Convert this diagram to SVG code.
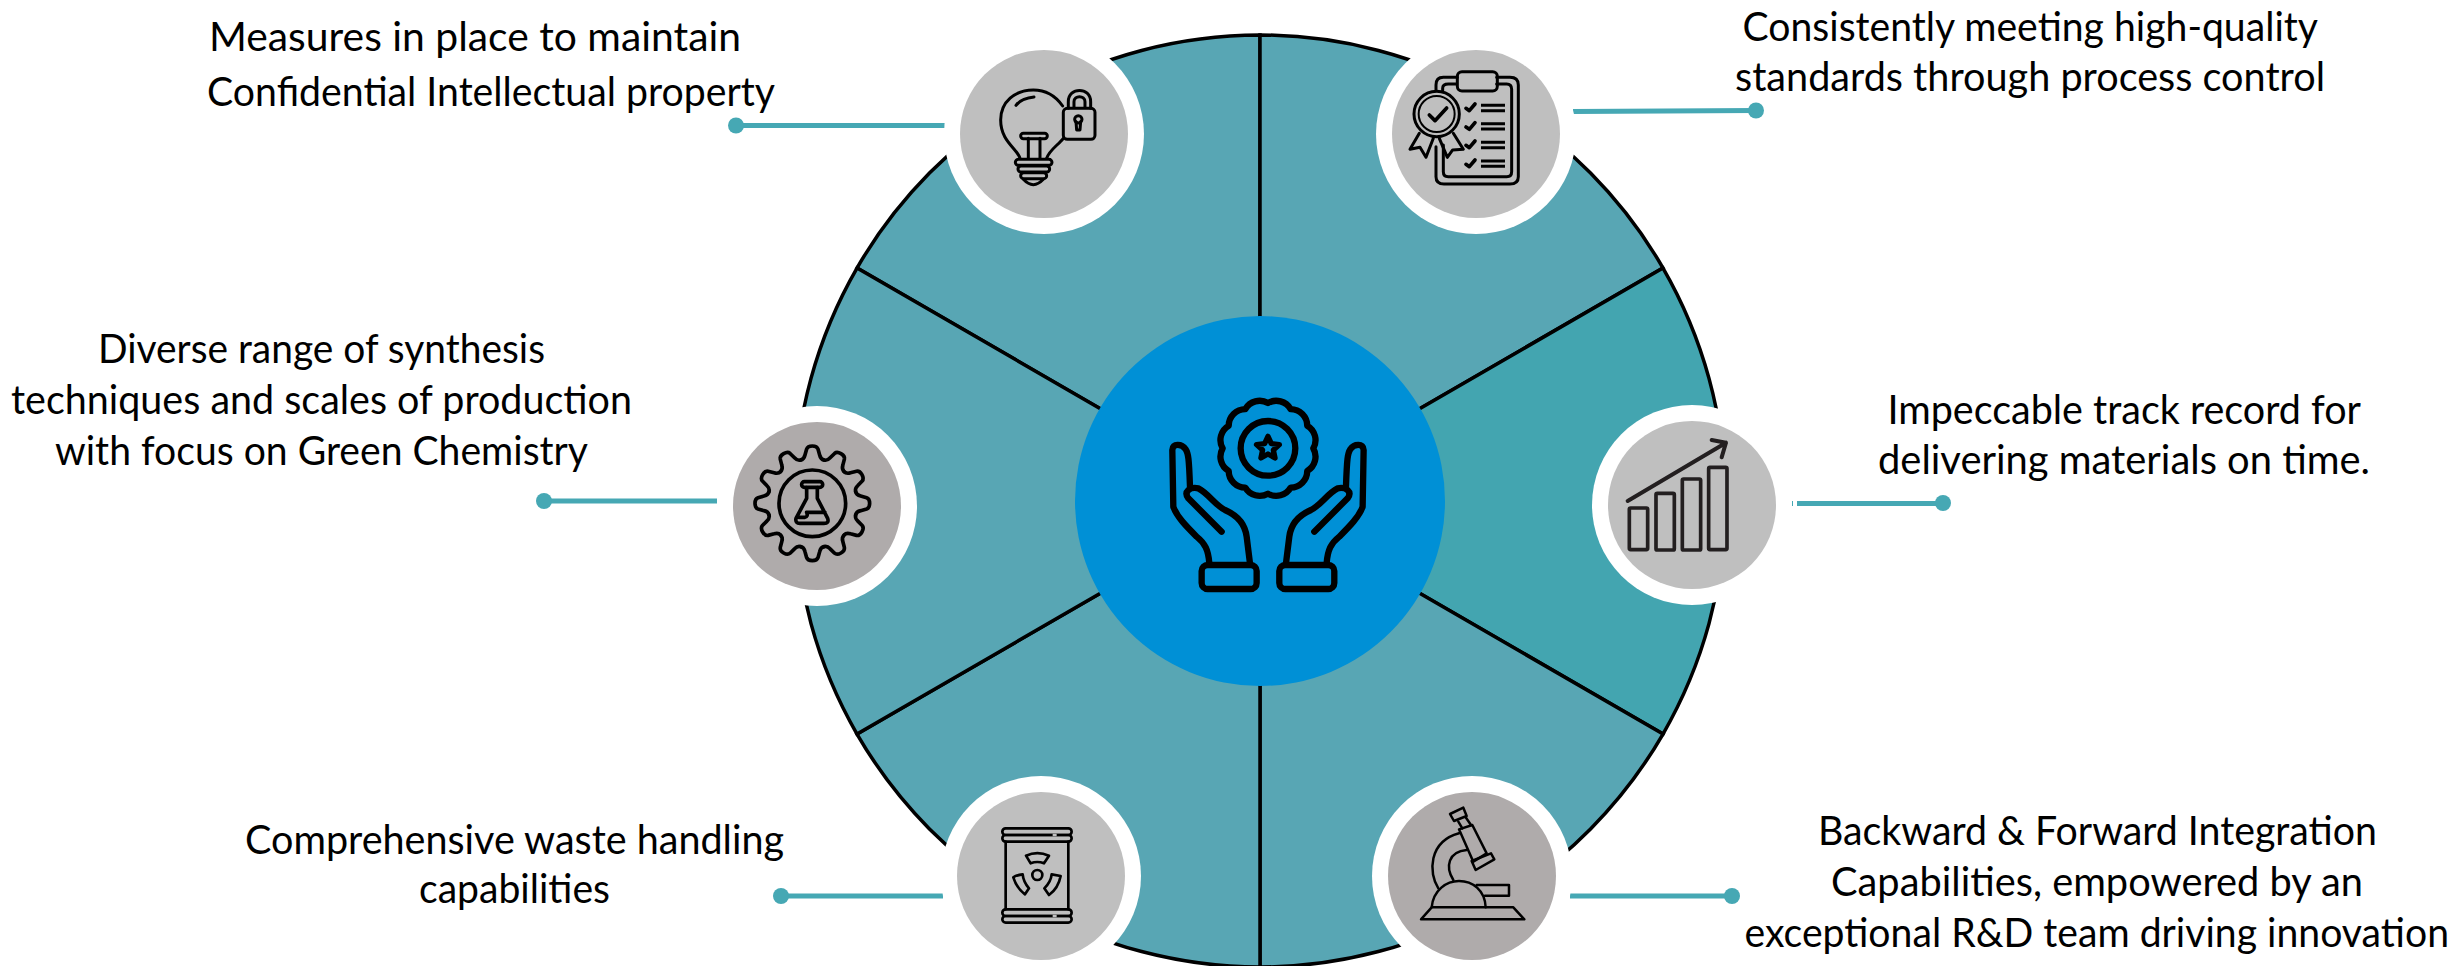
<svg xmlns="http://www.w3.org/2000/svg" xmlns:xlink="http://www.w3.org/1999/xlink" width="2458" height="966" viewBox="0 0 2458 966">
<style>
.sec{fill:#58a6b4;stroke:#000;stroke-width:3.5}
.ring{fill:#fff}
.g1{fill:#bfbfbf}
.g2{fill:#afabab}
.ic{fill:none;stroke:#000;stroke-linecap:round;stroke-linejoin:round}
.cl{fill:none;stroke:#46a8b4;stroke-width:5}
.dot{fill:#46a8b4}
text{font-family:Lato,"Open Sans",sans-serif;font-size:40px;fill:#000}
</style>
<defs>
<path id="tooth" d="M-35 -130Q-25 -132 -22 -145L-17 -163Q-14 -172 0 -172Q14 -172 17 -163L22 -145Q25 -132 35 -130"/>
<g id="hand">
<path d="M508 760C505 720 495 700 470 680C440 650 410 620 400 590L397 420C397 400 425 400 437 418C445 430 447 445 450 530"/>
<path d="M545 665L445 565C430 545 450 530 475 535C505 550 525 585 555 600C590 615 615 640 620 680L630 760"/>
<rect x="485" y="765" width="165" height="72" rx="18"/>
</g>
</defs>
<rect width="2458" height="966" fill="#fff"/>
<g id="pie">
<path class="sec" d="M1260 501L857 268A466 466 0 0 1 1260 35Z"/>
<path class="sec" d="M1260 501L1260 35A466 466 0 0 1 1663 268Z"/>
<path class="sec" style="fill:#43a5b0" d="M1260 501L1663 268A466 466 0 0 1 1663 734Z"/>
<path class="sec" d="M1260 501L1663 734A466 466 0 0 1 1260 967Z"/>
<path class="sec" d="M1260 501L1260 967A466 466 0 0 1 857 734Z"/>
<path class="sec" d="M1260 501L857 734A466 466 0 0 1 857 268Z"/>
</g>
<g id="connectors">
<path class="cl" d="M736 125.500H945"/><circle class="dot" cx="736" cy="125.500" r="8"/>
<path class="cl" d="M1573 111.500L1756 110.500"/><circle class="dot" cx="1756" cy="110.500" r="8"/>
<path class="cl" d="M544 501H717"/><circle class="dot" cx="544" cy="501" r="8"/>
<path class="cl" d="M1797 503.500H1943"/><rect class="dot" x="1792" y="501" width="1" height="5"/><circle class="dot" cx="1943" cy="503" r="8"/>
<path class="cl" d="M781 896H943"/><circle class="dot" cx="781" cy="896" r="8"/>
<path class="cl" d="M1570 896H1732"/><circle class="dot" cx="1732" cy="896" r="8"/>
</g>
<g id="node-quality-top-left">
<circle class="ring" cx="1044" cy="134" r="100"/><circle class="g1" cx="1044" cy="134" r="84"/>
<g class="ic" stroke-width="9" transform="translate(930 30) scale(.3333)">
<path d="M270 385C262 355 212 335 212 270C212 215 255 180 310 180C345 180 375 195 398 228M400 325C385 345 358 360 350 385M258 226C270 210 290 203 312 201M295 385V325M330 385V325"/>
<rect x="272" y="310" width="80" height="16" rx="8"/>
<rect x="256" y="388" width="110" height="18" rx="9"/><rect x="264" y="408" width="95" height="18" rx="9"/><rect x="272" y="428" width="78" height="18" rx="9"/>
<path d="M280 448Q310 480 340 448"/>
<rect x="400" y="235" width="95" height="93" rx="12"/>
<path d="M415 235V215C415 170 482 170 482 215V235M432 232V215C432 195 465 195 465 215V232"/>
<circle cx="445" cy="268" r="11"/><path d="M438 275L440 300H450L452 275"/>
</g>
</g>
<g id="node-quality-top-right">
<circle class="ring" cx="1476" cy="134" r="100"/><circle class="g1" cx="1476" cy="134" r="84"/>
<g class="ic" stroke-width="9" transform="translate(1370 20) scale(.3333)">
<path d="M262 172H220Q198 172 198 195V212M380 172H420Q445 172 445 195V470Q445 492 420 492H222Q198 492 198 470V380M260 192H235Q218 192 218 205V212M380 192H410Q425 192 425 208V455Q425 470 410 470H235Q220 470 220 455V375"/>
<rect x="262" y="155" width="120" height="58" rx="14"/>
<circle cx="200" cy="282" r="68"/><circle cx="200" cy="282" r="54" stroke-width="6"/>
<path stroke-width="11" d="M178 285L195 302L230 264"/>
<path d="M148 340L120 388L150 382L168 412L190 355M250 340L280 388L248 390L232 412L208 355"/>
<path stroke-width="11" d="M288 265L298 272L315 252M288 321L298 328L315 308M288 376L298 383L315 363M288 433L298 440L315 420"/>
<path stroke-linecap="butt" d="M333 256H405M333 272H405M333 311H405M333 327H405M333 367H405M333 383H405M333 423H405M333 439H405"/>
</g>
</g>
<g id="node-synthesis-left">
<circle class="ring" cx="817" cy="506" r="100"/><circle class="g2" cx="817" cy="506" r="84"/>
<g class="ic" stroke-width="11" transform="translate(700 390) scale(.3333)">
<g transform="translate(337 340)">
<use xlink:href="#tooth"/><use xlink:href="#tooth" transform="rotate(30)"/><use xlink:href="#tooth" transform="rotate(60)"/><use xlink:href="#tooth" transform="rotate(90)"/><use xlink:href="#tooth" transform="rotate(120)"/><use xlink:href="#tooth" transform="rotate(150)"/><use xlink:href="#tooth" transform="rotate(180)"/><use xlink:href="#tooth" transform="rotate(210)"/><use xlink:href="#tooth" transform="rotate(240)"/><use xlink:href="#tooth" transform="rotate(270)"/><use xlink:href="#tooth" transform="rotate(300)"/><use xlink:href="#tooth" transform="rotate(330)"/>
<circle r="100"/>
</g>
<rect x="305" y="275" width="63" height="17" rx="8"/>
<path d="M320 293V325L288 385Q285 400 300 400H372Q388 400 383 385L352 325V293M375 367H320M296 382H315Q325 380 320 367"/>
</g>
</g>
<g id="node-delivery-right">
<circle class="ring" cx="1692" cy="505" r="100"/><circle class="g1" cx="1692" cy="505" r="84"/>
<g class="ic" style="stroke:#231f20" stroke-width="11" transform="translate(1580 390) scale(.3333)">
<rect x="148" y="354" width="55" height="125" rx="4"/><rect x="228" y="310" width="55" height="170" rx="4"/><rect x="307" y="267" width="55" height="213" rx="4"/><rect x="386" y="232" width="55" height="247" rx="4"/>
<path stroke-width="12" d="M143 333L438 158M395 150L438 158L425 202"/>
</g>
</g>
<g id="node-waste-bottom-left">
<circle class="ring" cx="1041" cy="876" r="100"/><circle class="g1" cx="1041" cy="876" r="84"/>
<g class="ic" stroke-width="8" transform="translate(950 790) scale(.3333)">
<rect x="157" y="115" width="208" height="20" rx="10"/><rect x="157" y="135" width="208" height="20" rx="10"/>
<rect x="157" y="358" width="208" height="20" rx="10"/><rect x="157" y="378" width="208" height="20" rx="10"/>
<path d="M167 155V358M355 155V358"/>
<path style="stroke:#bfbfbf" stroke-linecap="butt" d="M308 135H320M308 378H320"/>
<circle cx="262" cy="255" r="15"/>
<path d="M228 197Q262 182 297 197L282 220Q262 212 242 220Z"/>
<path d="M190 262Q200 255 218 253Q220 275 237 295L225 313Q200 295 190 262Z"/>
<path d="M332 258L305 253Q303 275 283 295L297 315Q325 295 332 258Z"/>
</g>
</g>
<g id="node-integration-bottom-right">
<circle class="ring" cx="1472" cy="876" r="100"/><circle class="g2" cx="1472" cy="876" r="84"/>
<g class="ic" stroke-width="7.500" transform="translate(1385 790) scale(.3333)">
<path d="M108 388L140 352H385L418 388Z"/>
<path d="M140 352C145 300 185 273 222 273C262 273 300 300 302 352"/>
<path d="M275 285H372V317H300"/>
<path d="M160 295C130 250 130 155 222 130M205 270C180 230 190 185 245 180"/>
<path d="M222 118L262 105L305 190L265 215Z"/>
<path d="M260 213L318 190L328 208L272 240Z"/>
<path d="M220 95L232 115M242 82L258 105"/>
<path d="M195 72L235 53L245 78L207 93Z"/>
</g>
</g>
<g id="node-center">
<circle cx="1260" cy="501" r="185" fill="#0090d6"/>
<g class="ic" stroke-width="19" transform="translate(1040 310) scale(.3333)">
<path d="M820 415A50 50 0 0 1 801.800 483A50 50 0 0 1 752 532.800A50 50 0 0 1 684 551A50 50 0 0 1 616 532.800A50 50 0 0 1 566.200 483A50 50 0 0 1 548 415A50 50 0 0 1 566.200 347A50 50 0 0 1 616 297.200A50 50 0 0 1 684 279A50 50 0 0 1 752 297.200A50 50 0 0 1 801.800 347A50 50 0 0 1 820 415Z"/>
<circle cx="684" cy="415" r="82"/>
<path stroke-width="16" d="M684 379L694 401.200L718.200 403.900L700.200 420.300L705.200 444.100L684 432L662.800 444.100L667.800 420.300L649.800 403.900L674 401.200Z"/>
<use xlink:href="#hand"/>
<use xlink:href="#hand" transform="translate(1368 0) scale(-1 1)"/>
</g>
</g>
<g id="labels">
<g id="label-top-left"><text x="209" y="51" textLength="532" lengthAdjust="spacingAndGlyphs">Measures in place to maintain</text><text x="207" y="106" textLength="568" lengthAdjust="spacingAndGlyphs">Confidential Intellectual property</text></g>
<g id="label-left"><text x="98" y="363" textLength="447" lengthAdjust="spacingAndGlyphs">Diverse range of synthesis</text><text x="11" y="414" textLength="621" lengthAdjust="spacingAndGlyphs">techniques and scales of production</text><text x="55" y="465" textLength="533" lengthAdjust="spacingAndGlyphs">with focus on Green Chemistry</text></g>
<g id="label-bottom-left"><text x="245" y="854" textLength="539" lengthAdjust="spacingAndGlyphs">Comprehensive waste handling</text><text x="419" y="903" textLength="191" lengthAdjust="spacingAndGlyphs">capabilities</text></g>
<g id="label-top-right"><text x="1742.500" y="41" textLength="575.500" lengthAdjust="spacingAndGlyphs">Consistently meeting high-quality</text><text x="1735" y="91" textLength="590" lengthAdjust="spacingAndGlyphs">standards through process control</text></g>
<g id="label-right"><text x="1887.500" y="424" textLength="473.500" lengthAdjust="spacingAndGlyphs">Impeccable track record for</text><text x="1878" y="474" textLength="492" lengthAdjust="spacingAndGlyphs">delivering materials on time.</text></g>
<g id="label-bottom-right"><text x="1818" y="845" textLength="559" lengthAdjust="spacingAndGlyphs">Backward &amp; Forward Integration</text><text x="1831" y="896" textLength="532" lengthAdjust="spacingAndGlyphs">Capabilities, empowered by an</text><text x="1744.500" y="947" textLength="704.500" lengthAdjust="spacingAndGlyphs">exceptional R&amp;D team driving innovation</text></g>
</g>
</svg>
